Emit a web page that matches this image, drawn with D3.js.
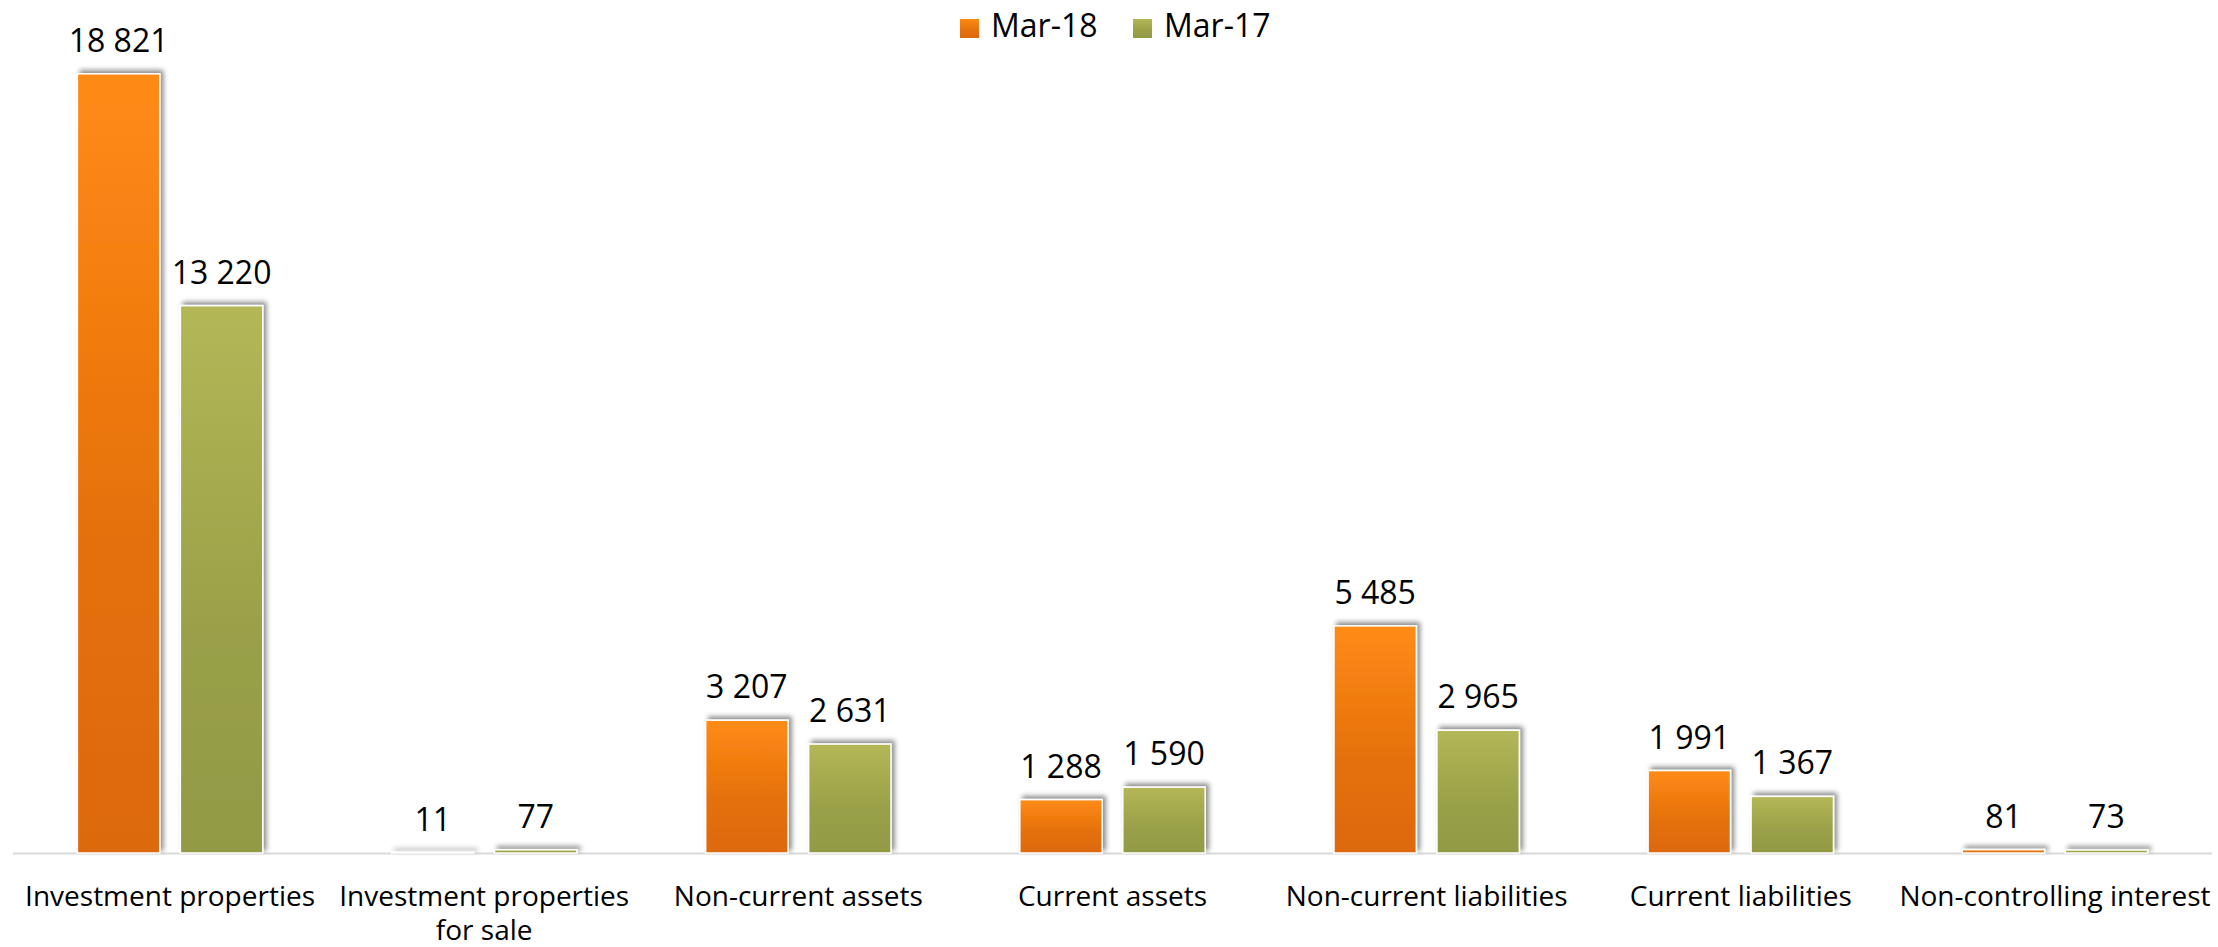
<!DOCTYPE html>
<html><head><meta charset="utf-8">
<script src="https://cdn.jsdelivr.net/npm/d3@7"></script>
<style>
html,body{margin:0;padding:0;background:#fff;}
svg{display:block;font-family:"Open Sans",sans-serif;}
</style></head>
<body>
<svg id="chart" width="2218" height="947"></svg>
<script>
const categories = [
  ["Investment properties"],
  ["Investment properties", "for sale"],
  ["Non-current assets"],
  ["Current assets"],
  ["Non-current liabilities"],
  ["Current liabilities"],
  ["Non-controlling interest"]
];
const seriesNames = ["Mar-18", "Mar-17"];
const mar18 = [18821, 11, 3207, 1288, 5485, 1991, 81];
const mar17 = [13220, 77, 2631, 1590, 2965, 1367, 73];
const yMax = 20000;

const W = 2218, H = 947;
const margin = {left: 13, right: 6, top: 25, bottom: 94};
const baseY = H - margin.bottom;
const svg = d3.select("#chart");
const defs = svg.append("defs");

const gradients = [
  {id: "gOrange", top: "#FF8B14", bottom: "#DD690D"},
  {id: "gGreen", top: "#B3B756", bottom: "#939A45"}
];
gradients.forEach(g => {
  const lg = defs.append("linearGradient").attr("id", g.id)
    .attr("x1", 0).attr("y1", 0).attr("x2", 0).attr("y2", 1);
  lg.append("stop").attr("offset", "0%").attr("stop-color", g.top);
  lg.append("stop").attr("offset", "60%").attr("stop-color", d3.interpolateRgb(g.top, g.bottom)(0.8));
  lg.append("stop").attr("offset", "100%").attr("stop-color", g.bottom);
});
const f = defs.append("filter").attr("id", "shadow")
  .attr("filterUnits", "userSpaceOnUse")
  .attr("x", 0).attr("y", 0).attr("width", W).attr("height", H);
f.append("feDropShadow").attr("dx", 3).attr("dy", -3).attr("stdDeviation", 2.5)
  .attr("flood-color", "#000").attr("flood-opacity", 0.45);

const idx = d3.range(categories.length);
const x0 = d3.scaleBand().domain(idx).range([margin.left, W - margin.right]).paddingInner(0).paddingOuter(0);
const inner = x0.bandwidth();
const x1 = d3.scaleBand().domain([0, 1]).range([inner * 0.205, inner * 0.795]).paddingInner(0.2);
const y = d3.scaleLinear().domain([0, yMax]).range([baseY, baseY - 828]);

const fmt = v => d3.format(",")(v).replace(/,/g, " ");
const fills = ["url(#gOrange)", "url(#gGreen)"];
const series = [mar18, mar17];

// axis line
svg.append("line").attr("x1", margin.left).attr("x2", W - margin.right)
  .attr("y1", baseY + 0.5).attr("y2", baseY + 0.5)
  .attr("stroke", "#d9d9d9").attr("stroke-width", 2);

const g = svg.append("g");
series.forEach((vals, s) => {
  g.selectAll(".bar" + s).data(vals).enter().append("rect")
    .attr("x", (d, i) => x0(i) + x1(s))
    .attr("y", d => y(d))
    .attr("width", x1.bandwidth())
    .attr("height", d => baseY - y(d))
    .attr("fill", fills[s])
    .attr("stroke", "#fff").attr("stroke-width", 1.5)
    .attr("filter", "url(#shadow)");
  g.selectAll(".lab" + s).data(vals).enter().append("text")
    .attr("x", (d, i) => x0(i) + x1(s) + x1.bandwidth() / 2)
    .attr("y", d => y(d) - 22)
    .attr("text-anchor", "middle")
    .attr("font-size", 32)
    .attr("fill", "#000")
    .text(d => fmt(d));
});

// category labels
const xa = svg.append("g");
categories.forEach((lines, i) => {
  const t = xa.append("text").attr("x", x0(i) + inner / 2).attr("y", 906)
    .attr("text-anchor", "middle").attr("font-size", 28).attr("fill", "#000");
  lines.forEach((ln, k) => {
    t.append("tspan").attr("x", x0(i) + inner / 2).attr("dy", k === 0 ? 0 : 34).text(ln);
  });
});

// legend
const legendX = [960, 1133];
seriesNames.forEach((n, s) => {
  svg.append("rect").attr("x", legendX[s]).attr("y", 19).attr("width", 19).attr("height", 19)
    .attr("fill", fills[s]);
  svg.append("text").attr("x", legendX[s] + 31).attr("y", 37).attr("font-size", 32)
    .attr("fill", "#000").text(n);
});
</script>
</body></html>
